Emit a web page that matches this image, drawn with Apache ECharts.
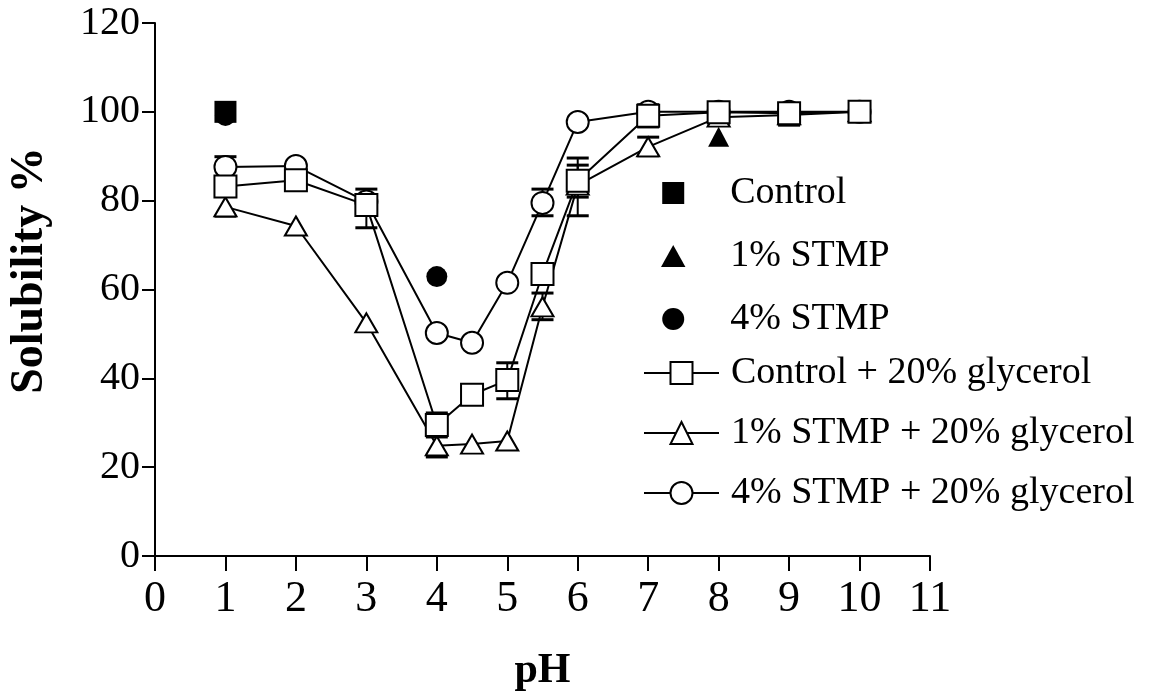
<!DOCTYPE html>
<html><head><meta charset="utf-8">
<script src="https://cdn.jsdelivr.net/npm/echarts@6/dist/echarts.min.js"></script>
<style>html,body{margin:0;padding:0;background:#fff}#c{width:1149px;height:700px}</style>
</head><body><div id="c"></div>
<script>
// ---- data ----
const pH = [1, 2, 3, 4, 4.5, 5, 5.5, 6, 7, 8, 9, 10];
const controlGly = [83.2, 84.6, 79.0, 29.5, 36.3, 39.6, 63.5, 84.5, 99.1, 99.9, 99.7, 100];
const stmp1Gly   = [78.6, 74.3, 52.5, 24.8, 25.2, 25.9, 56.1, 83.5, 92.1, 98.8, 99.3, 100];
const stmp4Gly   = [87.6, 87.8, 79.8, 50.2, 48.0, 61.5, 79.5, 97.7, 100, 100, 100, 100];
const controlPH = [1];      const controlVal = [100];
const stmp1PH   = [8];      const stmp1Val   = [94.4];
const stmp4PH   = [1, 4];   const stmp4Val   = [99.2, 62.9];
// error bars
const errPH   = [1,    2,    3,    4,    4,    5,    5.5,  5.5,  6,    6,    7,    7,    8,    9];
const errLow  = [76.5, 82.3, 73.9, 26.8, 22.3, 35.4, 53.2, 76.6, 76.6, 80.8, 90.1, 96.6, 97.0, 97.0];
const errHigh = [89.9, 86.9, 82.6, 32.2, 27.3, 43.5, 59.2, 82.6, 89.6, 88.0, 94.3, 101.6, 100.6, 101.6];
const xTicks = {min: 0, max: 11, step: 1};
const yTicks = {min: 0, max: 120, step: 20};

const FONT = 'Liberation Serif';
const chart = echarts.init(document.getElementById('c'), null, {renderer: 'canvas'});
const zip = (xs, ys) => xs.map((x, i) => [x, ys[i]]);
const openStyle = {color: '#fff', borderColor: '#000', borderWidth: 2, opacity: 1};
const filledStyle = {color: '#000', opacity: 1};
const lineStyle = {color: '#000', width: 2};

chart.setOption({
  animation: false,
  backgroundColor: '#fff',
  textStyle: {fontFamily: FONT, color: '#000'},
  grid: {left: 155, right: 219, top: 23, bottom: 144, outerBoundsMode: 'none', containLabel: false},
  xAxis: {
    type: 'value', min: xTicks.min, max: xTicks.max, interval: xTicks.step,
    name: 'pH', nameLocation: 'middle', nameGap: 94,
    nameTextStyle: {fontFamily: FONT, fontSize: 42, fontWeight: 'bold', color: '#000'},
    axisLine: {show: true, lineStyle: {color: '#000', width: 2}},
    axisTick: {show: true, inside: false, length: 15, lineStyle: {color: '#000', width: 2}},
    axisLabel: {fontFamily: FONT, fontSize: 44, color: '#000', margin: 21},
    splitLine: {show: false}
  },
  yAxis: {
    type: 'value', min: yTicks.min, max: yTicks.max, interval: yTicks.step,
    name: 'Solubility %', nameLocation: 'middle', nameGap: 102, nameRotate: 90,
    nameTextStyle: {fontFamily: FONT, fontSize: 46, fontWeight: 'bold', color: '#000', padding: [0, 0, 0, 38]},
    axisLine: {show: true, lineStyle: {color: '#000', width: 2}},
    axisTick: {show: true, inside: false, length: 13, lineStyle: {color: '#000', width: 2}},
    axisLabel: {fontFamily: FONT, fontSize: 40, color: '#000', margin: 15},
    splitLine: {show: false}
  },
  legend: [
    {
      orient: 'vertical', left: 661, top: 174, padding: 0, itemGap: 25,
      itemWidth: 104, itemHeight: 22, symbolKeepAspect: true, selectedMode: false,
      itemStyle: {opacity: 1},
      textStyle: {fontFamily: FONT, fontSize: 38, lineHeight: 37, color: '#000'},
      data: [
        {name: 'Control', icon: 'path://M0,0L10,0L10,10L0,10Z'},
        {name: '1% STMP', icon: 'path://M5,0L10,9L0,9Z'},
        {name: '4% STMP', icon: 'circle'}
      ]
    },
    {
      orient: 'vertical', left: 643, top: 354, padding: 0, itemGap: 22,
      itemWidth: 75, itemHeight: 27.5, selectedMode: false,
      textStyle: {fontFamily: FONT, fontSize: 38, lineHeight: 37, color: '#000', padding: [0, 0, 0, 7]},
      data: ['Control + 20% glycerol', '1% STMP + 20% glycerol', '4% STMP + 20% glycerol']
    }
  ],
  series: [
    {
      type: 'custom', name: 'err', silent: true, z: 1,
      data: errPH.map((x, i) => [x, errLow[i], errHigh[i]]),
      renderItem: function (params, api) {
        const x = api.value(0), lo = api.value(1), hi = api.value(2);
        const p1 = api.coord([x, lo]), p2 = api.coord([x, hi]);
        const w = 11;
        return {type: 'group', children: [
          {type: 'line', shape: {x1: p1[0], y1: p1[1], x2: p2[0], y2: p2[1]}, style: {stroke: '#000', lineWidth: 2}},
          {type: 'line', shape: {x1: p1[0] - w, y1: p1[1], x2: p1[0] + w, y2: p1[1]}, style: {stroke: '#000', lineWidth: 3}},
          {type: 'line', shape: {x1: p2[0] - w, y1: p2[1], x2: p2[0] + w, y2: p2[1]}, style: {stroke: '#000', lineWidth: 3}}
        ]};
      }
    },
    {name: '4% STMP', type: 'scatter', symbol: 'circle', symbolSize: 21, itemStyle: filledStyle,
     data: zip(stmp4PH, stmp4Val), emphasis: {disabled: true}, silent: true},
    {name: 'Control', type: 'scatter', symbol: 'rect', symbolSize: 22, itemStyle: filledStyle,
     data: zip(controlPH, controlVal), emphasis: {disabled: true}, silent: true},
    {name: '1% STMP', type: 'scatter', symbol: 'triangle', symbolSize: [21, 20], itemStyle: filledStyle,
     data: zip(stmp1PH, stmp1Val), emphasis: {disabled: true}, silent: true},
    {name: '4% STMP + 20% glycerol', type: 'line', symbol: 'circle', symbolSize: 22, showAllSymbol: true,
     itemStyle: openStyle, lineStyle: lineStyle, data: zip(pH, stmp4Gly), emphasis: {disabled: true}, silent: true},
    {name: '1% STMP + 20% glycerol', type: 'line', symbol: 'triangle', symbolSize: [22, 19], showAllSymbol: true,
     itemStyle: openStyle, lineStyle: lineStyle, data: zip(pH, stmp1Gly), emphasis: {disabled: true}, silent: true},
    {name: 'Control + 20% glycerol', type: 'line', symbol: 'rect', symbolSize: 22, showAllSymbol: true,
     itemStyle: openStyle, lineStyle: lineStyle, data: zip(pH, controlGly), emphasis: {disabled: true}, silent: true}
  ]
});
</script></body></html>
